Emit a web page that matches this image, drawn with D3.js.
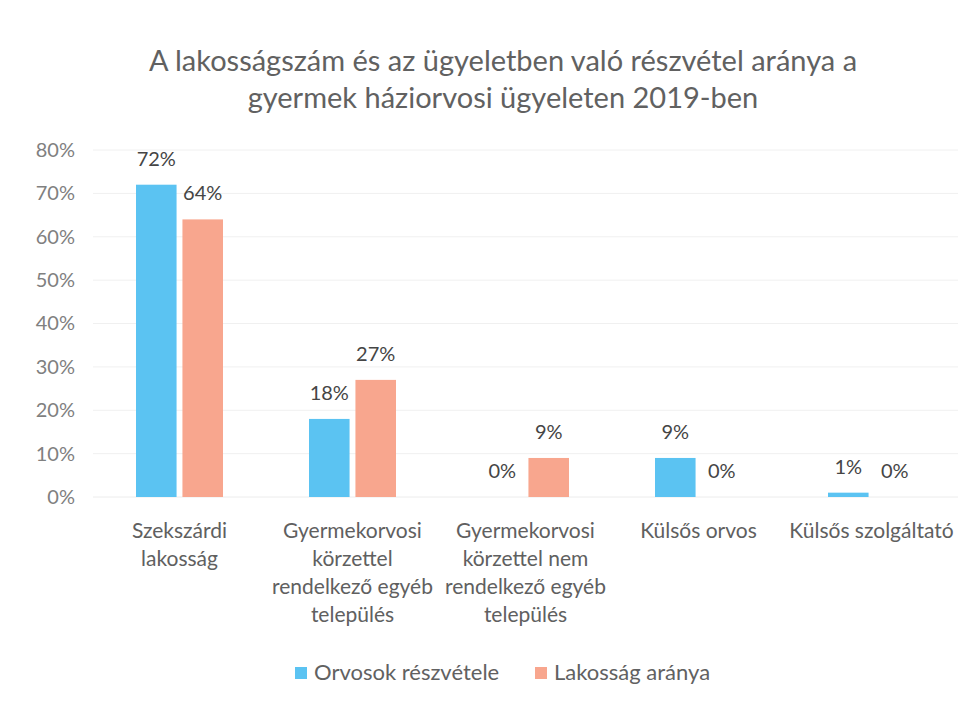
<!DOCTYPE html>
<html>
<head>
<meta charset="utf-8">
<script src="https://cdn.jsdelivr.net/npm/d3@7"></script>
<style>
  html, body { margin: 0; padding: 0; background: #ffffff; }
  svg { display: block; font-family: Lato, "Open Sans", sans-serif; }
</style>
</head>
<body>
<svg id="chart" width="976" height="703"></svg>
<script>
const titleLines = ["A lakosságszám és az ügyeletben való részvétel aránya a", "gyermek háziorvosi ügyeleten 2019-ben"];
const categories = ["Szekszárdi lakosság", "Gyermekorvosi körzettel rendelkező egyéb település", "Gyermekorvosi körzettel nem rendelkező egyéb település", "Külsős orvos", "Külsős szolgáltató"];
const categoryLines = [
  ["Szekszárdi", "lakosság"],
  ["Gyermekorvosi", "körzettel", "rendelkező egyéb", "település"],
  ["Gyermekorvosi", "körzettel nem", "rendelkező egyéb", "település"],
  ["Külsős orvos"],
  ["Külsős szolgáltató"]
];
const seriesNames = ["Orvosok részvétele", "Lakosság aránya"];
const orvosok = [72, 18, 0, 9, 1];
const lakossag = [64, 27, 9, 0, 0];
const yTicks = [0, 10, 20, 30, 40, 50, 60, 70, 80];
const colors = ["#5bc3f2", "#f8a68e"];

const svg = d3.select("#chart");
const margin = { left: 93, right: 18 };
const W = 976;

const x0 = d3.scaleBand().domain(categories).range([margin.left, W - margin.right]).paddingInner(0).paddingOuter(0);
const x1 = d3.scaleBand().domain(seriesNames).range([0, 87]).paddingInner(11 / 87);
const y = d3.scaleLinear().domain([0, 80]).range([497, 150]);

// Title
svg.append("g").selectAll("text").data(titleLines).join("text")
  .attr("x", 503).attr("y", (d, i) => 71 + i * 37)
  .attr("text-anchor", "middle")
  .attr("fill", "#616161").attr("font-size", 29)
  .text(d => d);

// Gridlines
svg.append("g").selectAll("line").data(yTicks.slice(1)).join("line")
  .attr("x1", margin.left).attr("x2", W - margin.right)
  .attr("y1", d => y(d)).attr("y2", d => y(d))
  .attr("stroke", "#f0f0f0").attr("stroke-width", 1);

// Y axis labels
const yAxis = d3.axisLeft(y).tickValues(yTicks).tickFormat(d => d + "%").tickSize(0).tickPadding(0);
const ya = svg.append("g").attr("transform", "translate(75,0)").call(yAxis);
ya.select(".domain").remove();
ya.selectAll("text").attr("fill", "#808080").attr("font-size", 20).attr("font-family", "Lato, 'Open Sans', sans-serif");

// Baseline
svg.append("line").attr("x1", margin.left).attr("x2", W - margin.right)
  .attr("y1", y(0)).attr("y2", y(0)).attr("stroke", "#ececec");

// Bars
const groupStart = c => x0(c) + (x0.bandwidth() - 87) / 2;
const data = categories.map((c, i) => ({ c, vals: [orvosok[i], lakossag[i]] }));
const groups = svg.append("g").selectAll("g").data(data).join("g")
  .attr("transform", d => `translate(${groupStart(d.c)},0)`);
groups.selectAll("rect").data(d => d.vals.map((v, k) => ({ v, k }))).join("rect")
  .attr("x", d => x1(seriesNames[d.k]))
  .attr("width", x1.bandwidth())
  .attr("y", d => y(d.v))
  .attr("height", d => Math.max(0, y(0) - y(d.v)))
  .attr("fill", d => colors[d.k]);
groups.selectAll("text").data(d => d.vals.map((v, k) => ({ v, k }))).join("text")
  .attr("x", d => x1(seriesNames[d.k]) + x1.bandwidth() / 2)
  .attr("y", d => y(d.v) - 19)
  .attr("text-anchor", "middle")
  .attr("fill", "#454545").attr("font-size", 20)
  .text(d => d.v + "%");

// Category labels
const cl = svg.append("g").selectAll("text").data(data).join("text")
  .attr("x", d => x0(d.c) + x0.bandwidth() / 2)
  .attr("text-anchor", "middle")
  .attr("fill", "#606060").attr("font-size", 21);
cl.selectAll("tspan").data((d, i) => categoryLines[i]).join("tspan")
  .attr("x", function () { return this.parentNode.getAttribute("x"); })
  .attr("y", (d, i) => 538 + i * 28)
  .text(d => d);

// Legend
const legendX = [295, 535];
const lg = svg.append("g").selectAll("g").data(seriesNames).join("g")
  .attr("transform", (d, i) => `translate(${legendX[i]},680)`);
lg.append("rect").attr("x", 0).attr("y", -13).attr("width", 12).attr("height", 12)
  .attr("fill", (d, i) => colors[i]);
lg.append("text").attr("x", 19).attr("y", 0).attr("fill", "#616161").attr("font-size", 22).text(d => d);
</script>
</body>
</html>
